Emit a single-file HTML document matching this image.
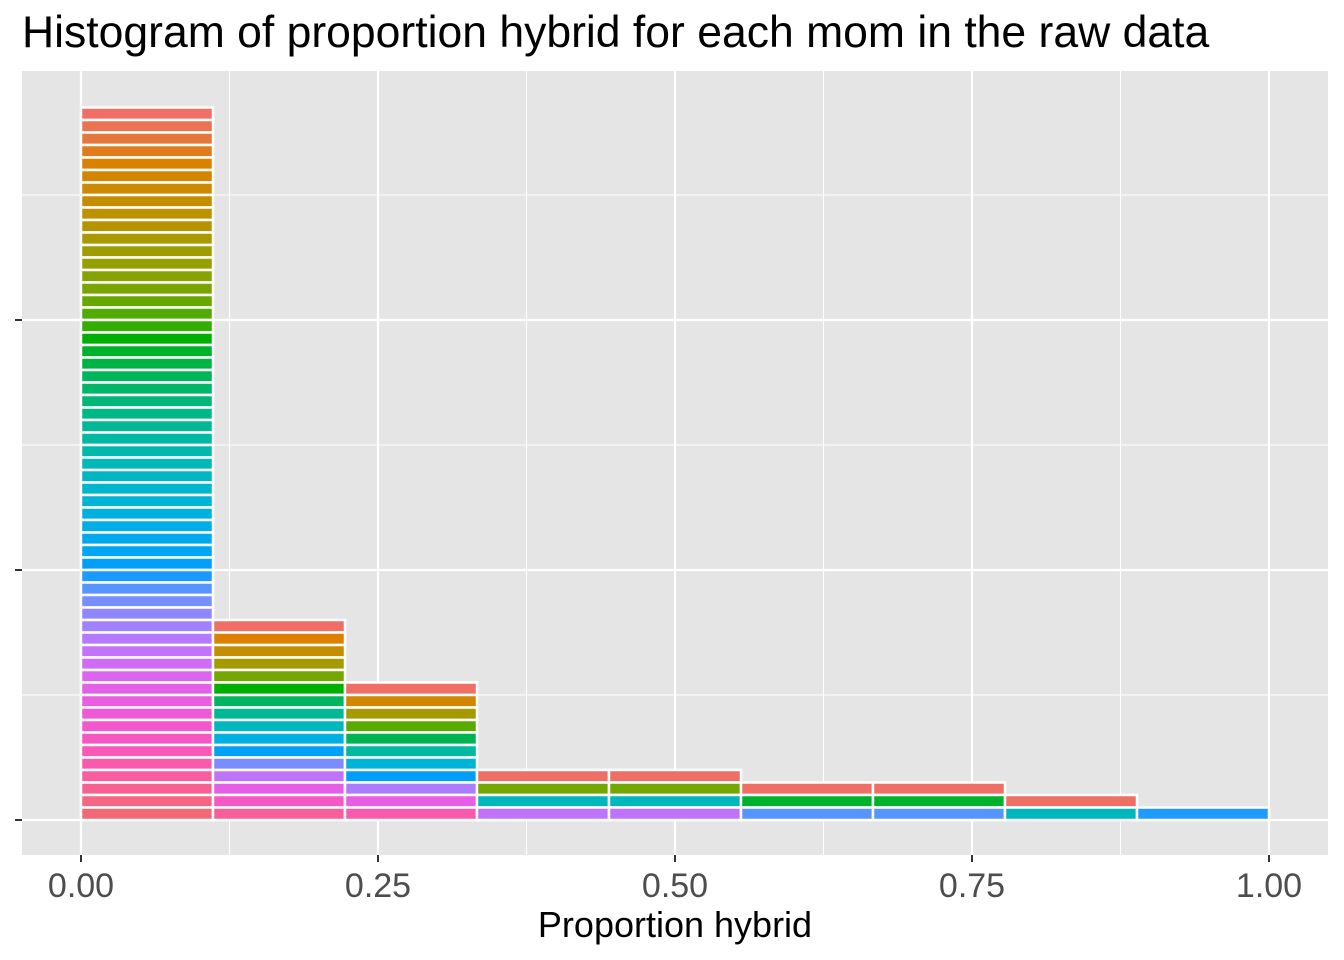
<!DOCTYPE html>
<html><head><meta charset="utf-8"><style>body{margin:0;background:#fff}svg{display:block}text{font-family:"Liberation Sans",Arial,sans-serif}</style></head>
<body>
<svg id="c" width="1344" height="960">
<text x="22" y="47" font-size="44.5" fill="#000">Histogram of proportion hybrid for each mom in the raw data</text>
<rect x="22" y="71" width="1306" height="784" fill="#e5e5e5"/>
<g id="grid"></g><g id="bars"></g><g id="axes"></g>
<text x="675" y="937" font-size="36" text-anchor="middle" fill="#000">Proportion hybrid</text>
</svg>
<script>
const binStarts=[0,1/9,2/9,3/9,4/9,5/9,6/9,7/9,8/9];
const counts=[57,16,11,4,4,3,3,2,1];
const xTicks=[0,0.25,0.5,0.75,1];
const xTickLabels=["0.00","0.25","0.50","0.75","1.00"];
const yTicks=[0,20,40];
const yMinor=[10,30,50];
const binWidth=1/9;
const X=v=>81+v*1188, Y=v=>820-v*12.5;
const ns="http://www.w3.org/2000/svg";
function mk(p,t,a){const e=document.createElementNS(ns,t);for(const k in a)e.setAttribute(k,a[k]);p.appendChild(e);return e;}
const grid=document.getElementById('grid'),bars=document.getElementById('bars'),axes=document.getElementById('axes');
for(let i=0;i<xTicks.length-1;i++){const l=mk(grid,'line',{x1:X((xTicks[i]+xTicks[i+1])/2),x2:X((xTicks[i]+xTicks[i+1])/2),y1:71,y2:855,stroke:'#fff','stroke-width':1.1});

}
yMinor.forEach(v=>{const l=mk(grid,'line',{x1:22,x2:1328,y1:Y(v),y2:Y(v),stroke:'#fff','stroke-width':1.1});

});
xTicks.forEach((v,i)=>{const l=mk(grid,'line',{x1:X(v),x2:X(v),y1:71,y2:855,stroke:'#fff','stroke-width':2.2});


const t=mk(axes,'text',{x:X(v),y:897,'font-size':34,'text-anchor':'middle',fill:'#4d4d4d'});t.textContent=xTickLabels[i];


const tk=mk(axes,'line',{x1:X(v),x2:X(v),y1:855,y2:862,stroke:'#333','stroke-width':2});

});
yTicks.forEach(v=>{const l=mk(grid,'line',{x1:22,x2:1328,y1:Y(v),y2:Y(v),stroke:'#fff','stroke-width':2.2});


const tk=mk(axes,'line',{x1:15,x2:22,y1:Y(v),y2:Y(v),stroke:'#333','stroke-width':2});

});
function hcl(h){h=h*Math.PI/180;const L=62,C=100;const u=C*Math.cos(h),v=C*Math.sin(h);
const Yv=Math.pow((L+16)/116,3);const un=0.1978,vn=0.4683;
const up=u/(13*L)+un,vp=v/(13*L)+vn;
const x=Yv*9*up/(4*vp),y=Yv,z=Yv*(12-3*up-20*vp)/(4*vp);
let r=3.2406*x-1.5372*y-0.4986*z,g=-0.9689*x+1.8758*y+0.0415*z,bb=0.0557*x-0.2040*y+1.0570*z;
const gm=c=>Math.round(255*Math.min(1,Math.max(0,c<=0.0031308?12.92*c:1.055*Math.pow(c,1/2.4)-0.055)));
return `rgb(${gm(r)},${gm(g)},${gm(bb)})`;}
counts.forEach((n,i)=>{for(let j=0;j<n;j++){const hue=15+360*(n===1?0.65:j/n);
const r=mk(bars,'rect',{x:X(binStarts[i]),y:Y(n-j),width:X(binStarts[i]+binWidth)-X(binStarts[i]),height:12.5,fill:hcl(hue),stroke:'#fff','stroke-width':2.5});

}});
</script>
</body></html>
